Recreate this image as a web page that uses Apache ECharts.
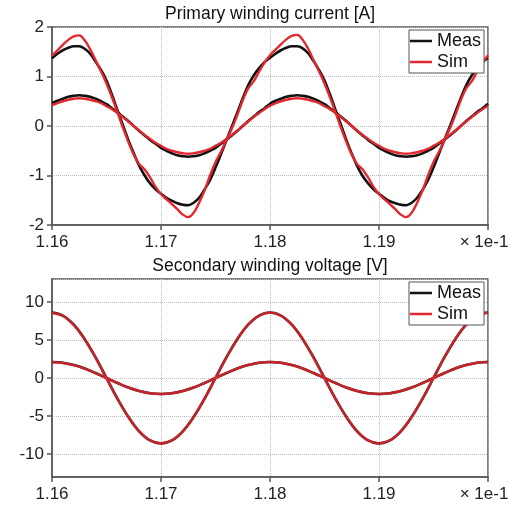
<!DOCTYPE html>
<html>
<head>
<meta charset="utf-8">
<script src="https://cdn.jsdelivr.net/npm/echarts@6/dist/echarts.min.js"></script>
<style>
html, body { margin: 0; padding: 0; background: #fff; }
#chart { width: 514px; height: 506px; }
</style>
</head>
<body>
<div id="chart"></div>
<script>
// time axis (x 1e-1 s), top plot sampled every 0.0005, bottom every 0.001
const timeTop = [
  1.1600, 1.1605, 1.1610, 1.1615, 1.1620, 1.1625, 1.1630, 1.1635, 1.1640, 1.1645,
  1.1650, 1.1655, 1.1660, 1.1665, 1.1670, 1.1675, 1.1680, 1.1685, 1.1690, 1.1695,
  1.1700, 1.1705, 1.1710, 1.1715, 1.1720, 1.1725, 1.1730, 1.1735, 1.1740, 1.1745,
  1.1750, 1.1755, 1.1760, 1.1765, 1.1770, 1.1775, 1.1780, 1.1785, 1.1790, 1.1795,
  1.1800, 1.1805, 1.1810, 1.1815, 1.1820, 1.1825, 1.1830, 1.1835, 1.1840, 1.1845,
  1.1850, 1.1855, 1.1860, 1.1865, 1.1870, 1.1875, 1.1880, 1.1885, 1.1890, 1.1895,
  1.1900, 1.1905, 1.1910, 1.1915, 1.1920, 1.1925, 1.1930, 1.1935, 1.1940, 1.1945,
  1.1950, 1.1955, 1.1960, 1.1965, 1.1970, 1.1975, 1.1980, 1.1985, 1.1990, 1.1995,
  1.2000
]
const timeBottom = [
  1.160, 1.161, 1.162, 1.163, 1.164, 1.165, 1.166, 1.167, 1.168, 1.169,
  1.170, 1.171, 1.172, 1.173, 1.174, 1.175, 1.176, 1.177, 1.178, 1.179,
  1.180, 1.181, 1.182, 1.183, 1.184, 1.185, 1.186, 1.187, 1.188, 1.189,
  1.190, 1.191, 1.192, 1.193, 1.194, 1.195, 1.196, 1.197, 1.198, 1.199,
  1.200
]

// primary winding current [A]
const measBig = [
  1.37, 1.46, 1.53, 1.58, 1.61, 1.61, 1.56, 1.46, 1.30, 1.13,
  0.92, 0.63, 0.32, 0.02, -0.28, -0.55, -0.80, -1.00, -1.16, -1.28,
  -1.37, -1.45, -1.51, -1.56, -1.59, -1.60, -1.55, -1.45, -1.28, -1.09,
  -0.84, -0.57, -0.29, -0.01, 0.27, 0.56, 0.82, 1.02, 1.17, 1.29,
  1.38, 1.46, 1.53, 1.58, 1.61, 1.61, 1.57, 1.47, 1.31, 1.13,
  0.92, 0.64, 0.33, 0.03, -0.28, -0.56, -0.81, -1.01, -1.16, -1.28,
  -1.37, -1.45, -1.52, -1.56, -1.59, -1.60, -1.55, -1.45, -1.29, -1.09,
  -0.84, -0.56, -0.28, -0.01, 0.28, 0.56, 0.82, 1.02, 1.17, 1.29,
  1.38
]
const simBig = [
  1.42, 1.53, 1.64, 1.74, 1.81, 1.83, 1.73, 1.55, 1.33, 1.10,
  0.86, 0.58, 0.28, -0.03, -0.32, -0.58, -0.77, -0.88, -1.04, -1.23,
  -1.38, -1.48, -1.58, -1.68, -1.79, -1.84, -1.75, -1.55, -1.30, -1.00,
  -0.73, -0.52, -0.29, -0.05, 0.22, 0.52, 0.76, 0.90, 1.10, 1.28,
  1.43, 1.54, 1.65, 1.75, 1.82, 1.84, 1.74, 1.56, 1.33, 1.10,
  0.86, 0.58, 0.28, -0.03, -0.32, -0.58, -0.77, -0.88, -1.04, -1.23,
  -1.38, -1.48, -1.58, -1.68, -1.79, -1.84, -1.75, -1.55, -1.30, -1.00,
  -0.73, -0.52, -0.29, -0.05, 0.22, 0.52, 0.76, 0.90, 1.10, 1.28,
  1.43
]
const measSmall = [
  0.46, 0.51, 0.55, 0.59, 0.61, 0.62, 0.61, 0.59, 0.55, 0.50,
  0.44, 0.36, 0.28, 0.19, 0.10, 0.00, -0.10, -0.19, -0.28, -0.36,
  -0.44, -0.50, -0.55, -0.59, -0.61, -0.62, -0.61, -0.59, -0.55, -0.50,
  -0.44, -0.36, -0.28, -0.19, -0.10, 0.00, 0.10, 0.19, 0.28, 0.36,
  0.45, 0.51, 0.55, 0.59, 0.61, 0.62, 0.61, 0.59, 0.55, 0.50,
  0.44, 0.36, 0.28, 0.19, 0.10, 0.00, -0.10, -0.19, -0.28, -0.36,
  -0.44, -0.50, -0.55, -0.59, -0.61, -0.62, -0.61, -0.59, -0.55, -0.50,
  -0.44, -0.36, -0.28, -0.19, -0.10, 0.00, 0.10, 0.19, 0.28, 0.36,
  0.45
]
const simSmall = [
  0.42, 0.46, 0.50, 0.53, 0.55, 0.56, 0.55, 0.53, 0.50, 0.46,
  0.40, 0.34, 0.26, 0.18, 0.09, 0.00, -0.09, -0.18, -0.26, -0.34,
  -0.40, -0.46, -0.50, -0.53, -0.55, -0.56, -0.55, -0.53, -0.50, -0.46,
  -0.40, -0.34, -0.26, -0.18, -0.09, 0.00, 0.09, 0.18, 0.26, 0.34,
  0.41, 0.46, 0.50, 0.53, 0.55, 0.56, 0.55, 0.53, 0.50, 0.46,
  0.40, 0.34, 0.26, 0.18, 0.09, 0.00, -0.09, -0.18, -0.26, -0.34,
  -0.40, -0.46, -0.50, -0.53, -0.55, -0.56, -0.55, -0.53, -0.50, -0.46,
  -0.40, -0.34, -0.26, -0.18, -0.09, 0.00, 0.09, 0.18, 0.26, 0.34,
  0.41
]

// secondary winding voltage [V]
const measVBig = [
  8.6, 8.2, 7.0, 5.1, 2.7, 0.0, -2.7, -5.1, -7.0, -8.2,
  -8.6, -8.2, -7.0, -5.1, -2.7, 0.0, 2.7, 5.1, 7.0, 8.2,
  8.6, 8.2, 7.0, 5.1, 2.7, 0.0, -2.7, -5.1, -7.0, -8.2,
  -8.6, -8.2, -7.0, -5.1, -2.7, 0.0, 2.7, 5.1, 7.0, 8.2,
  8.6
]
const simVBig = [
  8.55, 8.15, 6.95, 5.05, 2.65, -0.05, -2.7, -5.1, -7.0, -8.2,
  -8.6, -8.2, -7.0, -5.1, -2.7, 0.0, 2.7, 5.1, 7.0, 8.2,
  8.6, 8.2, 7.0, 5.1, 2.65, -0.05, -2.7, -5.1, -7.0, -8.2,
  -8.6, -8.2, -7.0, -5.1, -2.7, 0.0, 2.7, 5.1, 7.0, 8.2,
  8.6
]
const measVSmall = [
  2.1, 2.0, 1.7, 1.25, 0.65, 0.0, -0.65, -1.25, -1.7, -2.0,
  -2.1, -2.0, -1.7, -1.25, -0.65, 0.0, 0.65, 1.25, 1.7, 2.0,
  2.1, 2.0, 1.7, 1.25, 0.65, 0.0, -0.65, -1.25, -1.7, -2.0,
  -2.1, -2.0, -1.7, -1.25, -0.65, 0.0, 0.65, 1.25, 1.7, 2.0,
  2.1
]
const simVSmall = [
  2.08, 1.98, 1.69, 1.24, 0.64, -0.01, -0.65, -1.25, -1.7, -2.0,
  -2.1, -2.0, -1.7, -1.25, -0.65, 0.0, 0.65, 1.25, 1.7, 2.0,
  2.1, 2.0, 1.7, 1.25, 0.65, 0.0, -0.65, -1.25, -1.7, -2.0,
  -2.1, -2.0, -1.7, -1.25, -0.65, 0.0, 0.65, 1.25, 1.7, 2.0,
  2.1
]

const xTicks = [1.16, 1.17, 1.18, 1.19]
const xUnitLabel = '× 1e-1'

const FONT = '"Liberation Sans", Arial, sans-serif'
const MEAS_COLOR = '#111111'
const SIM_COLOR = '#e2282f'

function pairs(xs, ys) {
  return xs.map((x, i) => [x, ys[i]])
}

function xAxisFor(gridIndex) {
  return {
    type: 'value',
    gridIndex: gridIndex,
    min: 1.16,
    max: 1.2,
    interval: 0.01,
    axisLine: { show: true, onZero: false, lineStyle: { color: '#555', width: 1.5 } },
    axisTick: { show: true, inside: false, length: 5, lineStyle: { color: '#555', width: 1.5 } },
    splitLine: { show: true, lineStyle: { color: '#bbb', type: 'dotted', width: 1 } },
    axisLabel: {
      color: '#222',
      fontSize: 17,
      fontFamily: FONT,
      margin: 9,
      formatter: function (v) {
        if (Math.abs(v - 1.2) < 1e-6) return '{u|' + xUnitLabel + '}'
        const hit = xTicks.find(t => Math.abs(t - v) < 1e-6)
        return hit !== undefined ? hit.toFixed(2) : ''
      },
      rich: { u: { fontSize: 17, fontFamily: FONT, color: '#222', padding: [0, 8, 0, 0] } }
    }
  }
}

function yAxisFor(gridIndex, lim, interval) {
  const ax = {
    type: 'value',
    gridIndex: gridIndex,
    min: -lim,
    max: lim,
    axisLine: { show: true, onZero: false, lineStyle: { color: '#555', width: 1.5 } },
    axisTick: { show: true, inside: false, length: 5, lineStyle: { color: '#555', width: 1.5 } },
    splitLine: { show: true, lineStyle: { color: '#bbb', type: 'dotted', width: 1 } },
    axisLabel: {
      color: '#222',
      fontSize: 17,
      fontFamily: FONT,
      margin: 8,
      showMinLabel: interval !== null,
      showMaxLabel: interval !== null
    }
  }
  if (interval !== null) ax.interval = interval
  else ax.splitNumber = 5
  return ax
}

function line(name, xs, ys, color, xi, yi, width, opacity) {
  return {
    name: name,
    type: 'line',
    xAxisIndex: xi,
    yAxisIndex: yi,
    data: pairs(xs, ys),
    smooth: 0.4,
    symbol: 'none',
    lineStyle: { color: color, width: width, opacity: opacity },
    itemStyle: { color: color }
  }
}

function legendAt(top) {
  return {
    data: ['Meas', 'Sim'],
    orient: 'vertical',
    left: 409,
    top: top,
    icon: 'rect',
    itemWidth: 22,
    itemHeight: 2.5,
    itemGap: 3,
    padding: [2, 3, 2, 1],
    backgroundColor: '#fff',
    borderColor: '#555',
    borderWidth: 1,
    borderRadius: 0,
    z: 10,
    textStyle: { fontSize: 18, fontFamily: FONT, color: '#111' }
  }
}

const chart = echarts.init(document.getElementById('chart'))
const option = {
  animation: false,
  backgroundColor: '#fff',
  title: [
    {
      text: 'Primary winding current [A]',
      left: 270,
      top: 5,
      textAlign: 'center',
      padding: 0,
      textStyle: { fontSize: 17.5, fontWeight: 'normal', fontFamily: FONT, color: '#111' }
    },
    {
      text: 'Secondary winding voltage [V]',
      left: 270,
      top: 257,
      textAlign: 'center',
      padding: 0,
      textStyle: { fontSize: 17.5, fontWeight: 'normal', fontFamily: FONT, color: '#111' }
    }
  ],
  legend: [legendAt(30), legendAt(282)],
  grid: [
    { left: 52, top: 27, width: 436, height: 198, show: true, borderColor: '#555', borderWidth: 1.5, backgroundColor: 'transparent' },
    { left: 52, top: 279, width: 436, height: 198, show: true, borderColor: '#555', borderWidth: 1.5, backgroundColor: 'transparent' }
  ],
  xAxis: [xAxisFor(0), xAxisFor(1)],
  yAxis: [yAxisFor(0, 2, 1), yAxisFor(1, 13, null)],
  series: [
    line('Meas', timeTop, measBig, MEAS_COLOR, 0, 0, 2.6, 1),
    line('Meas', timeTop, measSmall, MEAS_COLOR, 0, 0, 2.6, 1),
    line('Sim', timeTop, simBig, SIM_COLOR, 0, 0, 2.4, 1),
    line('Sim', timeTop, simSmall, SIM_COLOR, 0, 0, 2.4, 1),
    line('Meas', timeBottom, measVBig, MEAS_COLOR, 1, 1, 2.6, 1),
    line('Meas', timeBottom, measVSmall, MEAS_COLOR, 1, 1, 2.6, 1),
    line('Sim', timeBottom, simVBig, SIM_COLOR, 1, 1, 2.5, 0.85),
    line('Sim', timeBottom, simVSmall, SIM_COLOR, 1, 1, 2.5, 0.85)
  ]
}
chart.setOption(option)
</script>
</body>
</html>
